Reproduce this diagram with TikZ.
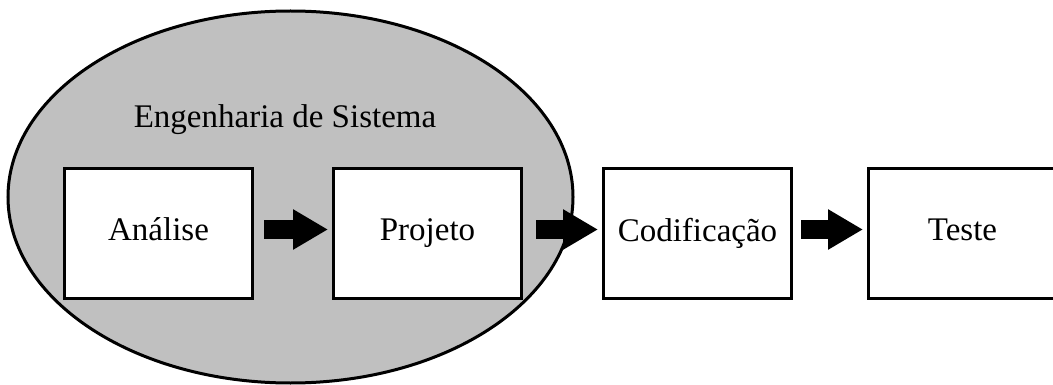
\documentclass[tikz,border=0pt]{standalone}
\usepackage{fontspec}
\setmainfont{Liberation Serif}
\usetikzlibrary{shapes.geometric,arrows.meta}
\definecolor{phasegray}{HTML}{C0C0C0}
\begin{document}
\begin{tikzpicture}[x=1pt,y=-1pt,
  stagebox/.style={draw=black, line width=3pt, fill=white, minimum width=188pt,
    minimum height=130pt, inner sep=0pt, font=\fontsize{33}{40}\selectfont,
    text depth=8pt, anchor=north west},
  blockarrow/.style={line width=19pt, draw=black,
    -{Triangle[length=35pt,width=38pt]}, shorten >=4pt}
]
\useasboundingbox (0,0) rectangle (1053,385);
\clip (0,0) rectangle (1053,385);
% system engineering region
\node[ellipse, draw=black, line width=3pt, fill=phasegray, inner sep=0pt,
  minimum width=565pt, minimum height=372pt] (eng) at (290.5,197) {};
\node[font=\fontsize{33}{40}\selectfont, anchor=base] (englabel) at (285,128)
  {Engenharia de Sistema};
% stages
\node[stagebox] (ana) at (63,167) {Análise};
\node[stagebox] (proj) at (332,167) {Projeto};
\node[stagebox] (cod) at (602,167) {Codificação};
\node[stagebox] (test) at (867,167) {Teste};
% block arrows between stages
\draw[blockarrow, shorten <=10pt] ([yshift=4pt]ana.east) -- ([yshift=4pt]proj.west);
\draw[blockarrow, shorten <=13pt] ([yshift=4pt]proj.east) -- ([yshift=4pt]cod.west);
\draw[blockarrow, shorten <=8pt] ([yshift=4pt]cod.east) -- ([yshift=4pt]test.west);
\end{tikzpicture}
\end{document}
